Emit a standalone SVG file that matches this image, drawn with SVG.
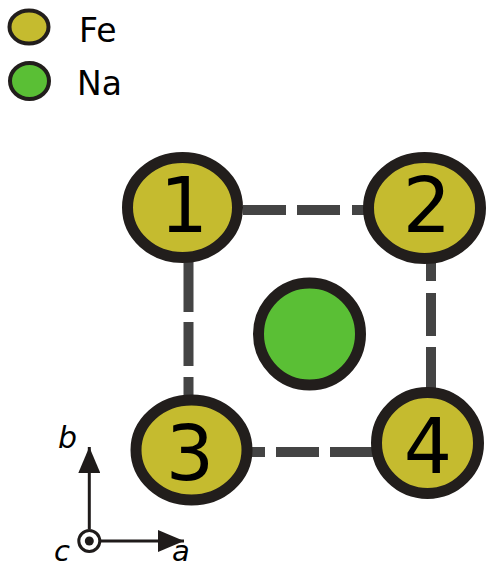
<svg xmlns="http://www.w3.org/2000/svg" width="493" height="568" viewBox="0 0 493 568">
<defs>
<style>
.fe{fill:#C5BB2F;stroke:#221E1C;stroke-width:11}
.na{fill:#5ABF35;stroke:#221E1C;stroke-width:11}
.lfe{fill:#C5BB2F;stroke:#221E1C;stroke-width:4}
.lna{fill:#5ABF35;stroke:#221E1C;stroke-width:4}
.num{font-family:"DejaVu Sans",sans-serif;font-size:76px;fill:#000;text-anchor:middle}
.leg{font-family:"DejaVu Sans",sans-serif;font-size:33px;fill:#000}
.ax{font-family:"DejaVu Sans",sans-serif;font-style:italic;font-size:30px;fill:#000}
.axs{font-family:"DejaVu Sans",sans-serif;font-style:italic;font-size:29px;fill:#000}
.dash{stroke:#444444;stroke-width:10;fill:none;stroke-linecap:butt}
.axis{stroke:#1f1b1a;stroke-width:3;fill:none}
</style>
<marker id="arr" viewBox="0 0 26 22" refX="26" refY="11" markerWidth="26" markerHeight="22" markerUnits="userSpaceOnUse" orient="auto">
<path d="M0,0 L26,11 L0,22 Z" fill="#1f1b1a"/>
</marker>
</defs>
<g id="legend">
<ellipse class="lfe" cx="29" cy="27" rx="19.5" ry="16.5"/>
<text class="leg" x="79" y="42">Fe</text>
<ellipse class="lna" cx="29.5" cy="81" rx="19.5" ry="18"/>
<text class="leg" x="77" y="95">Na</text>
</g>
<g id="connectors">
<path class="dash" d="M243,210H286M297,210H340M352,210H366"/>
<path class="dash" d="M250,452H265M276,452H319M330,452H374"/>
<path class="dash" d="M188.5,260V312M188.5,322V366M188.5,377V400"/>
<path class="dash" d="M431,260V281M431,293V336M431,347V390"/>
</g>
<g id="node-na">
<ellipse class="na" cx="309.5" cy="334" rx="51" ry="51"/>
</g>
<g id="node-1">
<ellipse class="fe" cx="182.5" cy="207.5" rx="55" ry="50"/>
<text class="num" x="184" y="232">1</text>
</g>
<g id="node-2">
<ellipse class="fe" cx="424.5" cy="208" rx="56" ry="50.5"/>
<text class="num" x="427" y="232">2</text>
</g>
<g id="node-3">
<ellipse class="fe" cx="191.5" cy="450" rx="55.5" ry="50"/>
<text class="num" x="190" y="480">3</text>
</g>
<g id="node-4">
<ellipse class="fe" cx="427.5" cy="443" rx="51" ry="50.5"/>
<text class="num" x="428" y="473">4</text>
</g>
<g id="axes">
<line class="axis" x1="89.3" y1="529" x2="89.3" y2="447" marker-end="url(#arr)"/>
<line class="axis" x1="101" y1="541" x2="184" y2="541" marker-end="url(#arr)"/>
<circle cx="89.3" cy="541" r="10.5" fill="#fff" stroke="#1f1b1a" stroke-width="3"/>
<circle cx="89.3" cy="541" r="4.5" fill="#1f1b1a"/>
<text class="ax" x="58" y="448">b</text>
<text class="axs" x="54" y="561">c</text>
<text class="axs" x="172" y="561">a</text>
</g>
</svg>
